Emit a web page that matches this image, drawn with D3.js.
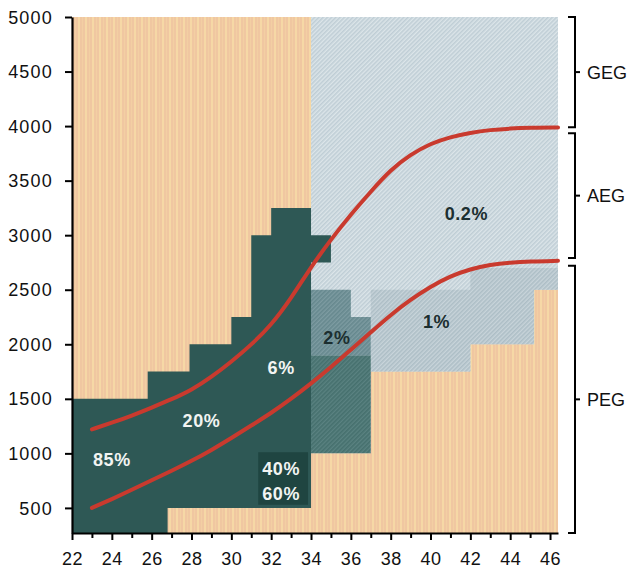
<!DOCTYPE html>
<html>
<head>
<meta charset="utf-8">
<script src="https://cdn.jsdelivr.net/npm/d3@7"></script>
<style>
  html, body { margin: 0; padding: 0; background: #ffffff; }
  svg { display: block; }
  text { font-family: "Liberation Sans", Arial, Helvetica, sans-serif; }
</style>
</head>
<body>
<svg id="chart" width="632" height="569"></svg>
<script>
// Gestational age (weeks) on x, birth weight (g) on y
const weekTicks = d3.range(22, 47, 1);
const weekLabels = [22, 24, 26, 28, 30, 32, 34, 36, 38, 40, 42, 44, 46];
const weightTicks = [500, 1000, 1500, 2000, 2500, 3000, 3500, 4000, 4500, 5000];
const weekDomain = [22, 46.4];
const weightDomain = [270, 5000];

// Step boundaries of the outcome zones, [week, grams]
const darkZone = [
  [22, 270], [22, 1500], [25.8, 1500], [25.8, 1750], [27.9, 1750], [27.9, 2000],
  [30, 2000], [30, 2250], [31, 2250], [31, 3000], [32, 3000], [32, 3250],
  [34, 3250], [34, 3000], [35, 3000], [35, 2750], [34, 2750], [34, 500],
  [26.8, 500], [26.8, 270]
];
const midZoneLow = [[34, 1000], [34, 1900], [37, 1900], [37, 1000]];
const midZoneHigh = [[34, 1900], [34, 2500], [36, 2500], [36, 2250], [37, 2250], [37, 1900]];
const lightZone = [
  [34, 5000], [46.4, 5000], [46.4, 2500], [45.2, 2500], [45.2, 2000], [42, 2000],
  [42, 1750], [37, 1750], [37, 1000], [34, 1000]
];
const onePctZone = [
  [37, 1750], [37, 2500], [42, 2500], [42, 2700], [46.4, 2700], [46.4, 2500],
  [45.2, 2500], [45.2, 2000], [42, 2000], [42, 1750]
];
const labelBox = [[31.35, 1010], [33.85, 1010], [33.85, 530], [31.35, 530]];

// Percentile curves, [week, grams]
const upperCurve = [
  [23, 1220], [24, 1280], [25, 1345], [26, 1420], [27, 1495], [28, 1580], [29, 1700],
  [30, 1840], [31, 1995], [32, 2175], [33, 2420], [34, 2710], [35, 2960], [36, 3190],
  [37, 3400], [38, 3600], [39, 3740], [40, 3840], [41, 3900], [42, 3940], [43, 3965],
  [44, 3978], [45, 3984], [46.4, 3988]
];
const lowerCurve = [
  [23, 500], [24, 580], [25, 665], [26, 755], [27, 840], [28, 930], [29, 1030],
  [30, 1140], [31, 1255], [32, 1370], [33, 1500], [34, 1640], [35, 1790], [36, 1950],
  [37, 2110], [38, 2270], [39, 2410], [40, 2530], [41, 2625], [42, 2690], [43, 2730],
  [44, 2750], [45, 2760], [46.4, 2765]
];

// Zone percentages, anchored at [week, grams]
const zoneLabels = [
  { text: "85%", at: [24.0, 940], light: true },
  { text: "20%", at: [28.5, 1300], light: true },
  { text: "6%", at: [32.5, 1790], light: true },
  { text: "40%", at: [32.5, 865], light: true },
  { text: "60%", at: [32.5, 630], light: true },
  { text: "2%", at: [35.3, 2065], light: false },
  { text: "1%", at: [40.3, 2205], light: false },
  { text: "0.2%", at: [41.8, 3200], light: false }
];

// Growth classes on the right
const classes = [
  { name: "GEG", from: 5000, to: 3990 },
  { name: "AEG", from: 3935, to: 2790 },
  { name: "PEG", from: 2720, to: 270 }
];

const svg = d3.select("#chart");
const x = d3.scaleLinear().domain(weekDomain).range([72, 558]);
const y = d3.scaleLinear().domain(weightDomain).range([533, 17]);

const defs = svg.append("defs");

// vertical stripes for the peach field
const peach = defs.append("pattern").attr("id", "peach")
  .attr("patternUnits", "userSpaceOnUse").attr("width", 7).attr("height", 10);
peach.append("rect").attr("width", 7).attr("height", 10).attr("fill", "#f0c7a1");
peach.append("rect").attr("x", 1).attr("width", 2).attr("height", 10).attr("fill", "#f6d8a6");
peach.append("rect").attr("x", 5).attr("width", 1).attr("height", 10).attr("fill", "#f3cfa3");

// fine diagonal stipple for blue-grey zones
function stipple(id, base, line, hi) {
  const p = defs.append("pattern").attr("id", id)
    .attr("patternUnits", "userSpaceOnUse").attr("width", 3).attr("height", 3)
    .attr("patternTransform", "rotate(45)");
  p.append("rect").attr("width", 3).attr("height", 3).attr("fill", base);
  p.append("rect").attr("width", 1).attr("height", 3).attr("fill", line);
  p.append("rect").attr("x", 2).attr("width", 1).attr("height", 3).attr("fill", hi);
}
stipple("light", "#cbd8de", "#bfcdd5", "#dce5e9");
stipple("onepct", "#b8c7ce", "#adbec6", "#c8d4da");
stipple("midhigh", "#6f9096", "#66888e", "#7e9ca2");
stipple("midlow", "#4d7775", "#46706e", "#5a8281");

const poly = d3.line().x(d => x(d[0])).y(d => y(d[1]));

// plot field
svg.append("rect")
  .attr("x", x(weekDomain[0])).attr("y", y(weightDomain[1]))
  .attr("width", x(weekDomain[1]) - x(weekDomain[0]))
  .attr("height", y(weightDomain[0]) - y(weightDomain[1]))
  .attr("fill", "url(#peach)");

const zones = svg.append("g");
zones.append("path").attr("d", poly(lightZone) + "Z").attr("fill", "url(#light)");
zones.append("path").attr("d", poly(onePctZone) + "Z").attr("fill", "url(#onepct)");
zones.append("path").attr("d", poly(midZoneLow) + "Z").attr("fill", "url(#midlow)");
zones.append("path").attr("d", poly(midZoneHigh) + "Z").attr("fill", "url(#midhigh)");
zones.append("path").attr("d", poly(darkZone) + "Z").attr("fill", "#2e5855");
zones.append("path").attr("d", poly(labelBox) + "Z").attr("fill", "#1f4541");

// percentile curves
const curveLine = d3.line().x(d => x(d[0])).y(d => y(d[1])).curve(d3.curveBasis);
[upperCurve, lowerCurve].forEach(c => {
  svg.append("path").attr("d", curveLine(c))
    .attr("fill", "none").attr("stroke", "#c93a2e").attr("stroke-width", 4)
    .attr("stroke-linecap", "round");
});

// zone labels
svg.append("g").selectAll("text").data(zoneLabels).join("text")
  .attr("x", d => x(d.at[0])).attr("y", d => y(d.at[1]))
  .attr("text-anchor", "middle").attr("dy", "0.36em")
  .attr("font-size", 18).attr("font-weight", "bold")
  .attr("letter-spacing", 0.6)
  .attr("fill", d => d.light ? "#f2f4f2" : "#1c2f30")
  .text(d => d.text);

// axes
const yAxis = svg.append("g").attr("transform", `translate(${x(weekDomain[0])},0)`)
  .call(d3.axisLeft(y).tickValues(weightTicks).tickSize(7).tickSizeOuter(0)
    .tickFormat(d3.format("d")));
yAxis.select(".domain").attr("stroke", "#000").attr("stroke-width", 2.2);
yAxis.selectAll(".tick line").attr("stroke", "#000").attr("stroke-width", 2);
yAxis.selectAll(".tick text").attr("x", -19).attr("dy", "0.34em")
  .attr("font-size", 18).attr("letter-spacing", 1.2).attr("fill", "#111");

const xAxis = svg.append("g").attr("transform", `translate(0,${y(weightDomain[0])})`)
  .call(d3.axisBottom(x).tickValues(weekTicks).tickSize(6).tickSizeOuter(0)
    .tickFormat(d => weekLabels.includes(d) ? d : ""));
xAxis.select(".domain").attr("stroke", "#000").attr("stroke-width", 2.2);
xAxis.selectAll(".tick line").attr("stroke", "#000").attr("stroke-width", 2)
  .attr("y2", d => weekLabels.includes(d) ? 7 : 5);
xAxis.selectAll(".tick text").attr("y", 19).attr("dy", "0.71em")
  .attr("font-size", 18).attr("letter-spacing", 0.5).attr("fill", "#111");

// right-hand brackets for growth classes
const bx = 575;
const br = svg.append("g").attr("stroke", "#000").attr("stroke-width", 2).attr("fill", "none");
classes.forEach(c => {
  const y0 = y(c.from), y1 = y(c.to), ym = (y0 + y1) / 2;
  br.append("path").attr("d", `M${bx - 7},${y0}H${bx}V${y1}H${bx - 7}`);
  br.append("path").attr("d", `M${bx},${ym}H${bx + 5}`);
  svg.append("text").attr("x", bx + 12).attr("y", ym).attr("dy", "0.36em")
    .attr("font-size", 18).attr("fill", "#111").text(c.name);
});
</script>
</body>
</html>
